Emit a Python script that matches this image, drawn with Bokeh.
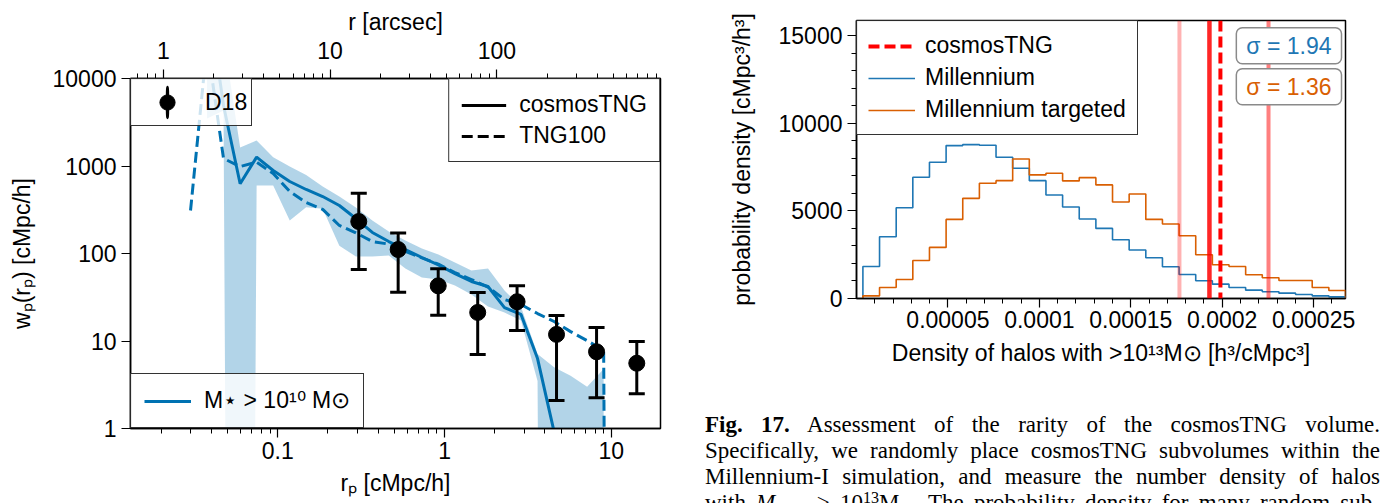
import numpy as np
from bokeh.embed import file_html
from bokeh.layouts import column, row
from bokeh.models import (ColumnDataSource, CustomJSTickFormatter, Div, FixedTicker, Label,
                          Legend, LegendItem, LogAxis, LogScale, Range1d, Span, TeeHead, Whisker)
from bokeh.plotting import figure
from bokeh.resources import INLINE

FONT = "Liberation Sans"
FS = "23px"
BLUE = "#0072B2"
MIL_BLUE = "#1f77b4"
MIL_ORANGE = "#d95f02"
nan = np.nan

# ---------------- projected two-point correlation function ----------------
rp = [0.0300, 0.0377, 0.0473, 0.0595, 0.0747, 0.0939, 0.118, 0.148, 0.186, 0.234,
      0.294, 0.369, 0.463, 0.582, 0.731, 0.918, 1.154, 1.449, 1.821, 2.287,
      2.873, 3.609, 4.534, 5.696, 7.155, 8.988, 11.29]
wp_cosmostng = [nan, 1.0e5, 4910, 626, 1262, 889, 665, 539, 448, 354,
                251, 174, 137, 111, 90, 74, 59, 47.9, 42, 24.1,
                20.1, 6.3, 0.92, nan, nan, nan, nan]
wp_tng100 = [310, 25100, 1218, 987, 1105, 820, 511, 383, 319, 209,
             172, 137, 128, 106, 89, 75.5, 60.6, 50.4, 41.4, 29.8,
             26.1, 20.6, 16.7, 12.8, 10.1, 7.8, 0.0]
wp_band_hi = [nan, 60000, 30000, 1630, 1955, 1260, 987, 789, 583, 448,
              336, 238, 178, 141, 114, 97.5, 79, 64, 67.4, 37.8,
              24.4, 7.1, 5.0, 4.0, 3.0, 4.8, nan]
wp_band_lo = [nan, 3490, 4300, 0.0, 598, 598, 238, 338, 324, 123,
              92.4, 92.4, 95, 67.4, 53.2, 50.4, 43, 34, 24.8, 21.2,
              17.1, 3.5, 0.0, 0.0, 0.0, 0.0, nan]

# D18 measurements
d18_rp = [0.306, 0.527, 0.916, 1.58, 2.72, 4.69, 8.15, 14.2]
d18_wp = [232, 111, 42.7, 21.2, 28.1, 11.9, 7.53, 5.57]
d18_hi = [489, 172, 66.9, 35.8, 42.8, 19.6, 14.3, 9.86]
d18_lo = [65.6, 36.1, 19.7, 7.01, 13.2, 2.09, 2.24, 2.49]

cmpc_per_arcsec = 0.0206
rp_lim = (0.0131, 19.7)
wp_lim = (1, 10000)

# ---------------- halo number density distribution ----------------
millennium = [1829, 3524, 5181, 6914, 7771, 8724, 8781, 8743, 8057, 7430,
              6724, 5905, 5222, 4537, 4000, 3352, 2763, 2324, 1810, 1372,
              1010, 819, 629, 476, 381, 305, 229, 152, 95]
millennium_targeted = [152, 629, 1086, 2171, 2914, 4514, 5714, 6571, 6724, 7962,
                       7052, 7143, 6709, 6895, 6480, 5509, 5966, 4514, 4251, 3581,
                       2495, 1924, 1829, 1352, 1181, 1029, 1029, 629, 457]
bin_lo, bin_hi = 3.5e-6, 2.674e-4
cosmos_density = 1.99e-4
cosmos_density_alt = 1.93e-4
band_low = 1.766e-4
band_high = 2.253e-4
sigma_millennium = 1.94
sigma_targeted = 1.36
density_ticks = [0.00005, 0.0001, 0.00015, 0.0002, 0.00025]
pdf_ticks = [0, 5000, 10000, 15000]


def log_floor(vals, floor=1e-30):
    """Non-positive values are clipped to a tiny floor, as on a log axis."""
    a = np.asarray(vals, dtype=float)
    return np.where(np.isnan(a) | (a > 0), a, floor)


def decade_minors(decades):
    return [m * d for d in decades for m in range(2, 10)]


def style_axis(ax, major, minor, label_standoff, axis_standoff):
    ax.ticker = FixedTicker(ticks=major, minor_ticks=minor)
    ax.formatter = CustomJSTickFormatter(code="return tick.toString();")
    ax.major_label_text_font = FONT
    ax.major_label_text_font_size = FS
    ax.major_label_text_color = "black"
    ax.major_label_standoff = label_standoff
    ax.axis_label_text_font = FONT
    ax.axis_label_text_font_size = FS
    ax.axis_label_text_font_style = "normal"
    ax.axis_label_text_color = "black"
    ax.axis_label_standoff = axis_standoff
    ax.axis_line_color = "black"
    ax.axis_line_width = 1.5
    ax.major_tick_in = 0
    ax.major_tick_out = 9
    ax.major_tick_line_width = 1.2
    ax.major_tick_line_color = "black"
    ax.minor_tick_in = 0
    ax.minor_tick_out = 5
    ax.minor_tick_line_width = 1.0
    ax.minor_tick_line_color = "black"


def style_legend(leg, padding, spacing, gw, gh, standoff):
    leg.label_text_font = FONT
    leg.label_text_font_size = FS
    leg.label_text_color = "black"
    leg.border_line_color = "black"
    leg.border_line_alpha = 0.8
    leg.border_line_width = 1.3
    leg.background_fill_color = "white"
    leg.background_fill_alpha = 0.8
    leg.margin = 0
    leg.padding = padding
    leg.spacing = spacing
    leg.glyph_width = gw
    leg.glyph_height = gh
    leg.label_standoff = standoff


# ================= left panel =================
left = figure(
    width=690, height=503,
    x_axis_type="log", y_axis_type="log",
    x_range=Range1d(*rp_lim), y_range=Range1d(*wp_lim),
    extra_x_ranges={"arcsec": Range1d(rp_lim[0] / cmpc_per_arcsec, rp_lim[1] / cmpc_per_arcsec)},
    extra_x_scales={"arcsec": LogScale()},
    output_backend="svg", toolbar_location=None,
    min_border_left=130, min_border_right=30, min_border_top=78, min_border_bottom=75,
    background_fill_color="white", border_fill_color="white",
)
left.grid.visible = False
left.outline_line_color = "black"
left.outline_line_width = 1.5

style_axis(left.xaxis[0], [0.1, 1, 10], decade_minors([0.01, 0.1, 1]), 4, 8)
left.xaxis[0].axis_label = "rₚ [cMpc/h]"
style_axis(left.yaxis[0], [1, 10, 100, 1000, 10000], [], 5, 15)
left.yaxis[0].axis_label = "wₚ(rₚ) [cMpc/h]"

top_axis = LogAxis(x_range_name="arcsec", axis_label="r [arcsec]")
style_axis(top_axis, [1, 10, 100], decade_minors([0.1, 1, 10, 100]), 11, 4)
left.add_layout(top_axis, "above")

# scatter band of cosmosTNG
hi = np.asarray(wp_band_hi, dtype=float)
lo = log_floor(wp_band_lo)
ok = ~np.isnan(hi) & ~np.isnan(lo)
left.varea(x=np.asarray(rp)[ok], y1=lo[ok], y2=hi[ok], fill_color=BLUE, fill_alpha=0.3)

cosmos_line = left.line(rp, log_floor(wp_cosmostng), line_color=BLUE, line_width=3)
left.line(rp, log_floor(wp_tng100), line_color=BLUE, line_width=3, line_dash="11 5")

d18_pts = left.scatter(d18_rp, d18_wp, marker="circle", size=16,
                       fill_color="black", line_color="black")
err_src = ColumnDataSource(dict(rp=d18_rp, lo=d18_lo, hi=d18_hi))
left.add_layout(Whisker(
    source=err_src, base="rp", lower="lo", upper="hi", dimension="height",
    line_color="black", line_width=3, level="annotation",
    upper_head=TeeHead(size=16, line_color="black", line_width=3),
    lower_head=TeeHead(size=16, line_color="black", line_width=3),
))

# legend keys (a single undefined point, so nothing appears in the frame)
d18_bar = left.ellipse(x=[nan], y=[nan], width=0.4, height=30,
                       width_units="screen", height_units="screen",
                       fill_color="black", line_color="black", line_width=3)
key_solid = left.line(x=[nan], y=[nan], line_color="black", line_width=3)
key_dashed = left.line(x=[nan], y=[nan], line_color="black", line_width=3, line_dash="11 5")

leg_d18 = Legend(items=[LegendItem(label="D18", renderers=[d18_bar, d18_pts])],
                 location="top_left")
style_legend(leg_d18, 4, 0, 64, 38, 6)
left.add_layout(leg_d18)

leg_sim = Legend(items=[LegendItem(label="cosmosTNG", renderers=[key_solid]),
                        LegendItem(label="TNG100", renderers=[key_dashed])],
                 location="top_right")
style_legend(leg_sim, 12, 4, 45, 20, 13)
left.add_layout(leg_sim)

leg_mass = Legend(items=[LegendItem(label="M⋆ > 10¹⁰ M⊙", renderers=[cosmos_line])],
                  location="bottom_left")
style_legend(leg_mass, 13, 0, 47, 20, 13)
left.add_layout(leg_mass)

# ================= right panel =================
right = figure(
    width=694, height=395,
    x_range=Range1d(0, bin_hi), y_range=Range1d(0, 15860),
    output_backend="svg", toolbar_location=None,
    min_border_left=166, min_border_right=39, min_border_top=20, min_border_bottom=97,
    background_fill_color="white", border_fill_color="white",
)
right.grid.visible = False
right.outline_line_color = "black"
right.outline_line_width = 1.5

style_axis(right.xaxis[0], density_ticks,
           [k * 1e-5 for k in range(1, 27) if k % 5], 3, 9)
right.xaxis[0].axis_label = "Density of halos with >10¹³M⊙ [h³/cMpc³]"
style_axis(right.yaxis[0], pdf_ticks, [k * 1000 for k in range(1, 16) if k % 5], 5, 21)
right.yaxis[0].axis_label = "probability density [cMpc³/h³]"

edges = np.linspace(bin_lo, bin_hi, len(millennium) + 1)


def outline(counts):
    # step outline of a histogram, closed down to zero at both ends
    xs = np.concatenate([[edges[0]], edges])
    ys = np.concatenate([[0], counts, [0]])
    return xs, ys


xs, ys = outline(millennium)
mil_step = right.step(xs, ys, mode="after", line_color=MIL_BLUE, line_width=1.6)
xs, ys = outline(millennium_targeted)
tgt_step = right.step(xs, ys, mode="after", line_color=MIL_ORANGE, line_width=1.6)

right.add_layout(Span(location=band_low, dimension="height", line_color="red",
                      line_alpha=0.3, line_width=4))
right.add_layout(Span(location=band_high, dimension="height", line_color="red",
                      line_alpha=0.5, line_width=4))
right.add_layout(Span(location=cosmos_density_alt, dimension="height", line_color="red",
                      line_alpha=0.85, line_width=4.5))
right.add_layout(Span(location=cosmos_density, dimension="height", line_color="red",
                      line_width=4, line_dash="11 5"))

key_cosmos = right.line(x=[nan], y=[nan], line_color="red", line_width=4, line_dash="11 5")
leg_right = Legend(items=[LegendItem(label="cosmosTNG", renderers=[key_cosmos]),
                          LegendItem(label="Millennium", renderers=[mil_step]),
                          LegendItem(label="Millennium targeted", renderers=[tgt_step])],
                   location="top_left")
style_legend(leg_right, 11, 5, 47, 20, 10)
right.add_layout(leg_right)

for text, yv, col in [(f"σ = {sigma_millennium:.2f}", 14420, MIL_BLUE),
                      (f"σ = {sigma_targeted:.2f}", 12080, MIL_ORANGE)]:
    lab = Label(x=bin_hi, y=yv, x_offset=-4, text=text, text_align="right",
                text_baseline="middle", text_color=col, text_font=FONT, text_font_size=FS,
                background_fill_color="white", border_line_color="#8a8a8a",
                border_line_width=1.5, border_radius=6)
    try:
        lab.padding = dict(left=10, right=10, top=5, bottom=5)
    except Exception:
        lab.padding = 6
    right.add_layout(lab)

# ================= caption =================
SUP = '<span style="position:relative; top:-0.45em; font-size:70%;">{}</span>'
SUB = '<span style="position:relative; top:0.3em; font-size:70%;">{}</span>'
caption_html = (
    '<div style="margin:12px 0 0 10px; width:675px; font-family:\'Liberation Serif\', serif; '
    'font-size:23px; line-height:26px; text-align:justify; text-align-last:justify; color:#000;">'
    '<b>Fig. 17.</b> Assessment of the rarity of the cosmosTNG volume.<br>'
    'Specifically, we randomly place cosmosTNG subvolumes within the<br>'
    'Millennium-I simulation, and measure the number density of halos<br>'
    'with <i>M</i>' + SUB.format('200c') + ' &gt; 10' + SUP.format('13') + 'M' + SUB.format('⊙')
    + '. The probability density for many random sub-'
    '</div>'
)
caption = Div(text=caption_html, width=694, height=108, styles={"overflow": "hidden"})

p = row(left, column(right, caption))
open("out.html", "w").write(file_html(p, INLINE))
